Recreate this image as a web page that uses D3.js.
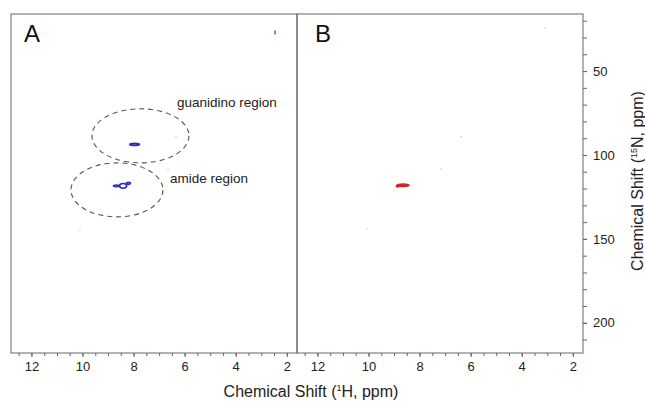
<!DOCTYPE html>
<html>
<head>
<meta charset="utf-8">
<script src="https://cdn.jsdelivr.net/npm/d3@7"></script>
<style>
  body { margin: 0; background: #fff; }
  text { font-family: "Liberation Sans", Arial, Helvetica, sans-serif; }
</style>
</head>
<body>
<svg class="chart-hsqc" width="645" height="401"></svg>
<script>
// axis values
var hLabels = [12, 10, 8, 6, 4, 2];
var nLabels = [50, 100, 150, 200];
var panelNames = ["A", "B"];

// contours: [1H ppm, 15N ppm, half width 1H, half height 15N]
var peaksA = [
    [7.96, 93.7, 0.19, 0.6],
    [8.67, 118.4, 0.12, 0.5],
    [8.41, 118.4, 0.14, 1.4],
    [8.20, 116.9, 0.08, 0.6]
];
var peaksB = [
    [8.65, 118.1, 0.23, 0.7],
    [8.85, 118.6, 0.06, 0.4]
];
// tiny single-level spots
var spotsA = [[2.46, 27.0, 0.01, 1.1]];
// faint noise spots
var noiseA = [[10.10, 144.6], [6.34, 89.2], [6.65, 108.9]];
var noiseB = [[3.09, 24.3], [6.37, 89.2], [7.16, 108.3], [10.06, 144.0]];

// dashed regions in panel A
var regionNames = ["guanidino region", "amide region"];
var regionCenters = [[7.73, 88.6], [8.65, 120.8]];
var regionRadii = [[1.9, 16.1], [1.8, 16.1]];
var regionLabelAt = [[6.3, 71.4], [6.57, 116.6]];

var frame = { left: 11, top: 14, w: 286, h: 339 };
var letterX = [13, 18];

var scale = {
    x: d3.scaleLinear().domain([12.8, 1.6]).range([0, frame.w]),
    y: d3.scaleLinear().domain([16, 218]).range([0, frame.h])
};

var svg = d3.select("svg.chart-hsqc");

function halfSteps(a, b, step) {
    var out = [];
    for (var v = a; v <= b + 1e-9; v += step) out.push(+v.toFixed(2));
    return out;
}

function drawContours(g, cls, data, colour, sw, fill) {
    g.selectAll("ellipse." + cls)
        .data(data)
        .enter()
        .append("ellipse")
        .attr("class", cls)
        .attr("cx", function (d) { return scale.x(d[0]); })
        .attr("cy", function (d) { return scale.y(d[1]); })
        .attr("rx", function (d) { return Math.abs(scale.x(d[0] + d[2]) - scale.x(d[0])); })
        .attr("ry", function (d) { return scale.y(d[1] + d[3]) - scale.y(d[1]); })
        .attr("fill", fill)
        .attr("stroke", colour)
        .attr("stroke-width", sw);
}

function drawPanel(i, peaks, noise, colour, fill) {
    var g = svg.append("g")
        .attr("transform", "translate(" + (frame.left + i * frame.w) + "," + frame.top + ")");

    // minor + major x ticks
    g.append("g")
        .attr("transform", "translate(0," + frame.h + ")")
        .call(d3.axisBottom(scale.x).tickValues(halfSteps(2, 12.5, 0.5)).tickSize(3).tickFormat(""))
        .call(function (a) { a.select(".domain").remove(); a.selectAll("line").attr("stroke", "#666"); });
    g.append("g")
        .attr("transform", "translate(0," + frame.h + ")")
        .call(d3.axisBottom(scale.x).tickValues(hLabels).tickSize(4).tickPadding(5).tickFormat(d3.format("d")))
        .call(function (a) {
            a.select(".domain").remove();
            a.selectAll("line").attr("stroke", "#666");
            a.selectAll("text").attr("font-size", 13).attr("fill", "#222")
             .attr("font-family", "Liberation Sans, Arial, sans-serif");
        });

    // frame
    g.append("rect")
        .attr("width", frame.w)
        .attr("height", frame.h)
        .attr("fill", "none")
        .attr("stroke", "#666")
        .attr("stroke-width", 1);

    g.append("text")
        .attr("x", letterX[i])
        .attr("y", 28)
        .attr("font-size", 24)
        .attr("fill", "#111")
        .text(panelNames[i]);

    g.selectAll("circle.noise")
        .data(noise)
        .enter()
        .append("circle")
        .attr("class", "noise")
        .attr("cx", function (d) { return scale.x(d[0]); })
        .attr("cy", function (d) { return scale.y(d[1]); })
        .attr("r", 0.8)
        .attr("fill", "#ccc");

    drawContours(g, "peak", peaks, colour, 1.6, fill);
    return g;
}

var gA = drawPanel(0, peaksA, noiseA, "#2b2bb5", "none");
var gB = drawPanel(1, peaksB, noiseB, "#d62222", "#d62222");
drawContours(gA, "spot", spotsA, "#4a4ab0", 0.9, "none");

// regions
gA.selectAll("ellipse.region")
    .data(regionCenters)
    .enter()
    .append("ellipse")
    .attr("class", "region")
    .attr("cx", function (d) { return scale.x(d[0]); })
    .attr("cy", function (d) { return scale.y(d[1]); })
    .attr("rx", function (d, i) { return scale.x(d[0] - regionRadii[i][0]) - scale.x(d[0]); })
    .attr("ry", function (d, i) { return scale.y(d[1] + regionRadii[i][1]) - scale.y(d[1]); })
    .attr("fill", "none")
    .attr("stroke", "#555")
    .attr("stroke-width", 1.1)
    .attr("stroke-dasharray", "5,4");

gA.selectAll("text.region")
    .data(regionLabelAt)
    .enter()
    .append("text")
    .attr("class", "region")
    .attr("x", function (d) { return scale.x(d[0]); })
    .attr("y", function (d) { return scale.y(d[1]); })
    .attr("font-size", 13.5)
    .attr("fill", "#222")
    .text(function (d, i) { return regionNames[i]; });

// right 15N axis
var gR = svg.append("g")
    .attr("transform", "translate(" + (frame.left + 2 * frame.w) + "," + frame.top + ")");
gR.append("g")
    .call(d3.axisRight(scale.y).tickValues(halfSteps(20, 210, 10)).tickSize(4).tickFormat(""))
    .call(function (a) { a.select(".domain").remove(); a.selectAll("line").attr("stroke", "#666"); });
gR.append("g")
    .call(d3.axisRight(scale.y).tickValues(nLabels).tickSize(4).tickPadding(6).tickFormat(d3.format("d")))
    .call(function (a) {
        a.select(".domain").remove();
        a.selectAll("line").attr("stroke", "#666");
        a.selectAll("text").attr("font-size", 13).attr("fill", "#222")
         .attr("font-family", "Liberation Sans, Arial, sans-serif");
    });

// axis titles
var xt = svg.append("text")
    .attr("x", 311)
    .attr("y", 397)
    .attr("text-anchor", "middle")
    .attr("font-size", 16)
    .attr("fill", "#222");
xt.append("tspan").text("Chemical Shift (");
xt.append("tspan").attr("font-size", 9).attr("dy", -6).text("1");
xt.append("tspan").attr("dy", 6).text("H, ppm)");

var yt = svg.append("text")
    .attr("transform", "translate(643,181) rotate(-90)")
    .attr("text-anchor", "middle")
    .attr("font-size", 16)
    .attr("fill", "#222");
yt.append("tspan").text("Chemical Shift (");
yt.append("tspan").attr("font-size", 9).attr("dy", -6).text("15");
yt.append("tspan").attr("dy", 6).text("N, ppm)");
</script>
</body>
</html>
